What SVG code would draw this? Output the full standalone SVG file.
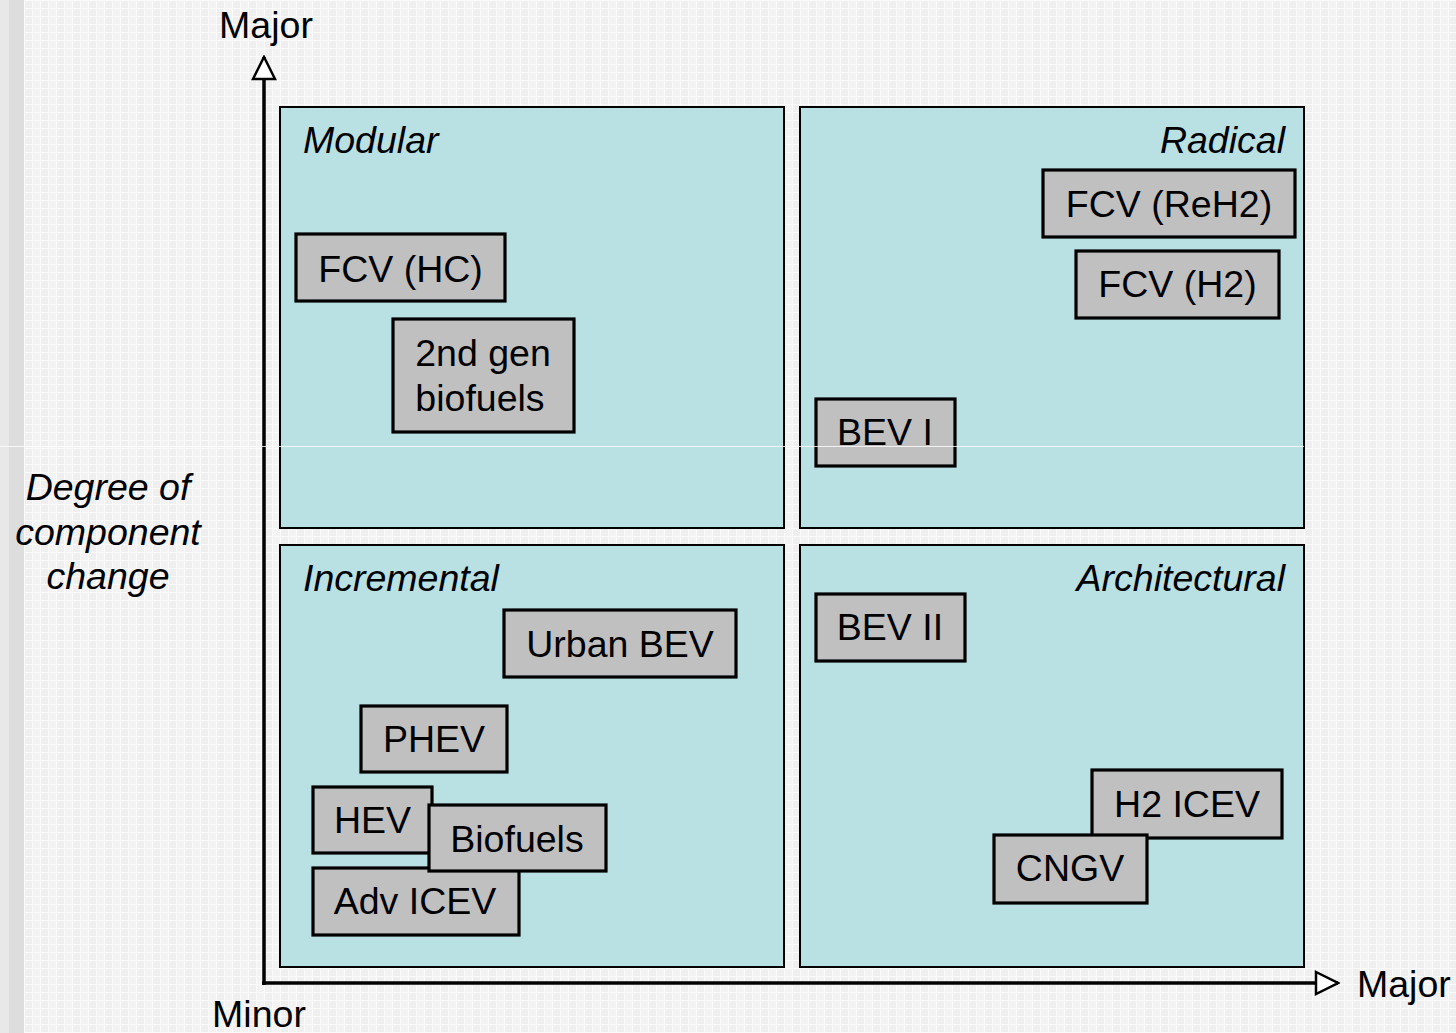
<svg xmlns="http://www.w3.org/2000/svg" width="1456" height="1033" viewBox="0 0 1456 1033">
<defs>
<pattern id="grid" x="0" y="0" width="16" height="16" patternUnits="userSpaceOnUse">
<rect width="16" height="16" fill="#efefef"/>
<rect x="0" y="0" width="8" height="16" fill="#f3f3f3"/>
<path d="M0 0.5H16M0 8.5H16M0.5 0V16M8.5 0V16" stroke="#fafafa" stroke-width="1" fill="none"/>
</pattern>
<marker id="openArrow" viewBox="0 0 26 26" refX="24" refY="13" markerWidth="26" markerHeight="26" markerUnits="userSpaceOnUse" orient="auto">
<path d="M2 2 L24 13 L2 24 Z" fill="#ffffff" stroke="#000" stroke-width="2.5" stroke-linejoin="miter"/>
</marker>
</defs>
<style>
text{font-family:"Liberation Sans",Arial,sans-serif;font-size:37.5px;fill:#000}
.it{font-style:italic}
.quad{fill:#b9e0e3;stroke:#000;stroke-width:2}
.box{fill:#c0c0c0;stroke:#000;stroke-width:3.2}
.axis{stroke:#000;stroke-width:3.5;fill:none}
</style>
<rect width="1456" height="1033" fill="url(#grid)"/>
<rect x="0" y="0" width="9" height="1033" fill="#e8e8e8"/>
<rect x="9" y="0" width="15" height="1033" fill="#dddddd"/>

<g id="quadrants">
<g id="q-modular"><rect class="quad" x="280" y="107" width="504" height="421"/><text class="it" x="303" y="153">Modular</text></g>
<g id="q-radical"><rect class="quad" x="800" y="107" width="504" height="421"/><text class="it" x="1285" y="153" text-anchor="end">Radical</text></g>
<g id="q-incremental"><rect class="quad" x="280" y="545" width="504" height="422"/><text class="it" x="303" y="591">Incremental</text></g>
<g id="q-architectural"><rect class="quad" x="800" y="545" width="504" height="422"/><text class="it" x="1285" y="591" text-anchor="end">Architectural</text></g>
</g>

<g id="connectors">
<line class="axis" x1="264" y1="985" x2="264" y2="57" marker-end="url(#openArrow)"/>
<line class="axis" x1="262" y1="983" x2="1338" y2="983" marker-end="url(#openArrow)"/>
</g>

<g id="axis-labels">
<text x="266" y="38" text-anchor="middle">Major</text>
<text x="259" y="1027" text-anchor="middle">Minor</text>
<text x="1357" y="997">Major</text>
<text class="it" x="108" y="500" text-anchor="middle">Degree of</text>
<text class="it" x="108" y="545" text-anchor="middle">component</text>
<text class="it" x="108" y="589" text-anchor="middle">change</text>
</g>

<g id="n-fcv-hc"><rect class="box" x="296" y="234" width="209" height="67"/><text x="400.5" y="282" text-anchor="middle">FCV (HC)</text></g>
<g id="n-2nd-gen"><rect class="box" x="393" y="319" width="181" height="113"/><text x="483" y="366" text-anchor="middle">2nd gen</text><text x="480" y="411" text-anchor="middle">biofuels</text></g>
<g id="n-fcv-reh2"><rect class="box" x="1043" y="170" width="252" height="67"/><text x="1169" y="217" text-anchor="middle">FCV (ReH2)</text></g>
<g id="n-fcv-h2"><rect class="box" x="1076" y="251" width="203" height="67"/><text x="1177.5" y="297" text-anchor="middle">FCV (H2)</text></g>
<g id="n-bev-i"><rect class="box" x="816" y="399" width="139" height="67"/><text x="885" y="445" text-anchor="middle">BEV I</text></g>
<g id="n-urban-bev"><rect class="box" x="504" y="610" width="232" height="67"/><text x="620" y="657" text-anchor="middle">Urban BEV</text></g>
<g id="n-phev"><rect class="box" x="361" y="706" width="146" height="66"/><text x="434" y="752" text-anchor="middle">PHEV</text></g>
<g id="n-bev-ii"><rect class="box" x="816" y="594" width="149" height="67"/><text x="890" y="640" text-anchor="middle">BEV II</text></g>
<g id="n-adv-icev"><rect class="box" x="313" y="868" width="206" height="67"/><text x="415" y="914" text-anchor="middle">Adv ICEV</text></g>
<g id="n-hev"><rect class="box" x="313" y="787" width="119" height="66"/><text x="372.5" y="833" text-anchor="middle">HEV</text></g>
<g id="n-biofuels"><rect class="box" x="429" y="805" width="177" height="66"/><text x="517" y="852" text-anchor="middle">Biofuels</text></g>
<g id="n-h2-icev"><rect class="box" x="1092" y="770" width="190" height="68"/><text x="1187" y="817" text-anchor="middle">H2 ICEV</text></g>
<g id="n-cngv"><rect class="box" x="994" y="835" width="153" height="68"/><text x="1070" y="881" text-anchor="middle">CNGV</text></g>

<line x1="0" y1="446.5" x2="1304" y2="446.5" stroke="#ffffff" stroke-width="1" opacity="0.8"/>
</svg>
